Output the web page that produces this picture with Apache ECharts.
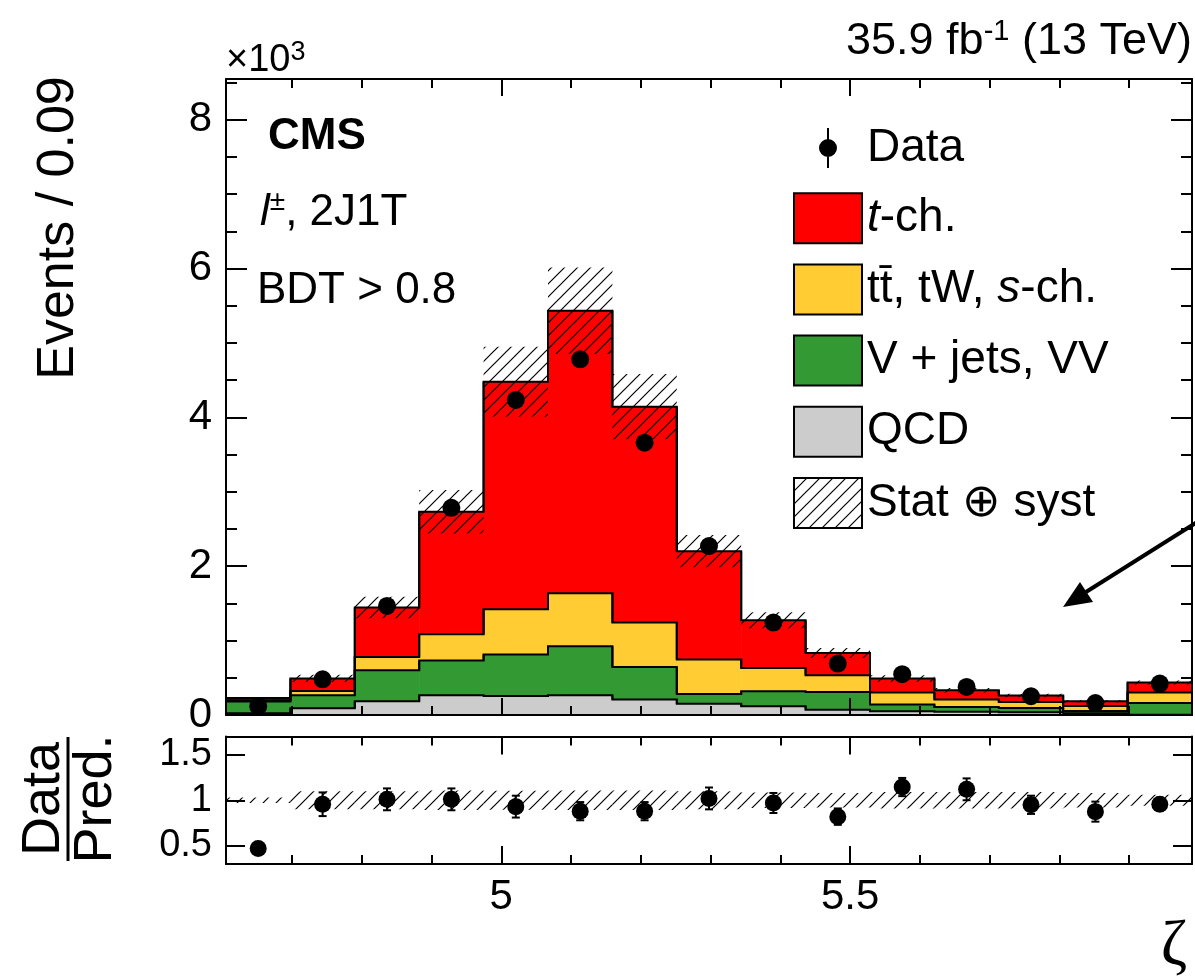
<!DOCTYPE html>
<html>
<head>
<meta charset="utf-8">
<script src="https://cdn.jsdelivr.net/npm/echarts@6/dist/echarts.min.js"></script>
<style>
html,body{margin:0;padding:0;background:#fff;}
#chart{width:1195px;height:978px;}
</style>
</head>
<body>
<div id="chart"></div>
<script>
// ---------------- data ----------------
const binEdges = [4.6055, 4.6978, 4.7901, 4.8824, 4.9747, 5.0670, 5.1593, 5.2516, 5.3439, 5.4362, 5.5285, 5.6208, 5.7131, 5.8054, 5.8977, 5.9900];
const qcd    = [25, 90, 186, 265, 256, 265, 207, 150, 117, 72, 50, 43, 36, 23, 5];
const vjets  = [155, 175, 414, 467, 557, 659, 439, 132, 202, 237, 90, 65, 58, 31, 156];
const ttbar  = [18, 56, 180, 354, 609, 713, 597, 463, 313, 225, 161, 99, 81, 67, 140];
const tch    = [31, 171, 665, 1645, 3058, 3795, 2901, 1457, 642, 300, 189, 125, 86, 63, 135];
const dataObs = [117, 480, 1466, 2785, 4234, 4781, 3660, 2270, 1243, 691, 548, 377, 252, 161, 422];
const uncRel  = [0.03, 0.10, 0.10, 0.107, 0.105, 0.107, 0.106, 0.098, 0.085, 0.08, 0.09, 0.09, 0.09, 0.08, 0.06];
const ratioVals = [0.47, 0.956, 1.01, 1.01, 0.93, 0.88, 0.88, 1.02, 0.97, 0.82, 1.145, 1.12, 0.95, 0.875, 0.956];
const ratioErr  = [0.04, 0.13, 0.12, 0.12, 0.12, 0.10, 0.10, 0.12, 0.11, 0.09, 0.10, 0.12, 0.10, 0.11, 0.07];
const xMajorTicks = [5, 5.5];
const xMinorTicks = [4.7, 4.8, 4.9, 5.1, 5.2, 5.3, 5.4, 5.6, 5.7, 5.8, 5.9];
const yMainMajor = [0, 2000, 4000, 6000, 8000];
const yMainMinor = [500, 1000, 1500, 2500, 3000, 3500, 4500, 5000, 5500, 6500, 7000, 7500, 8500];
const yRatioTicks = [0.5, 1, 1.5];
const X_MIN = 4.6055, X_MAX = 5.99;
const Y_MAX = 8548, R_MIN = 0.3, R_MAX = 1.7;

const FONT = "'Liberation Sans', Arial, Helvetica, sans-serif";

// ---------------- helpers ----------------
function makeHatch() {
  const s = 13;
  const c = document.createElement('canvas');
  c.width = s; c.height = s;
  const g = c.getContext('2d');
  g.strokeStyle = '#000'; g.lineWidth = 1.2;
  g.beginPath();
  g.moveTo(0, s); g.lineTo(s, 0);
  g.moveTo(-s / 2, s / 2); g.lineTo(s / 2, -s / 2);
  g.moveTo(s / 2, s * 1.5); g.lineTo(s * 1.5, s / 2);
  g.stroke();
  return c;
}
const hatch = { image: makeHatch(), repeat: 'repeat' };

const procs = [
  { name: 'QCD', vals: qcd, color: '#cccccc' },
  { name: 'V + jets, VV', vals: vjets, color: '#339933' },
  { name: 'tt\u0304, tW, s-ch.', vals: ttbar, color: '#ffcc33' },
  { name: 't-ch.', vals: tch, color: '#ff0000' }
];

const nBins = binEdges.length - 1;
const centers = [];
for (let i = 0; i < nBins; i++) centers.push((binEdges[i] + binEdges[i + 1]) / 2);

const series = [];
let cum = new Array(nBins).fill(0);
procs.forEach((p, k) => {
  const base = cum.slice();
  const top = base.map((b, i) => b + p.vals[i]);
  const fillData = [], lineData = [];
  for (let i = 0; i < nBins; i++) {
    fillData.push([binEdges[i], binEdges[i + 1], base[i], top[i]]);
    lineData.push([binEdges[i], binEdges[i + 1], top[i], i > 0 ? top[i - 1] : 0, i < nBins - 1 ? top[i + 1] : 0]);
  }
  series.push({
    type: 'custom', name: p.name, xAxisIndex: 0, yAxisIndex: 0, z: 2,
    itemStyle: { color: p.color, borderColor: '#000', borderWidth: 2 },
    encode: { x: [0, 1], y: [2, 3] },
    data: fillData,
    renderItem: (params, api) => {
      const a = api.coord([api.value(0), api.value(3)]);
      const b = api.coord([api.value(1), api.value(2)]);
      return { type: 'rect', shape: { x: a[0], y: a[1], width: b[0] - a[0] + 0.6, height: b[1] - a[1] },
               style: { fill: p.color } };
    }
  });
  series.push({
    type: 'custom', name: p.name + '_outline', xAxisIndex: 0, yAxisIndex: 0, z: 3,
    encode: { x: [0, 1], y: [2] },
    data: lineData,
    renderItem: (params, api) => {
      const lo = api.value(0), hi = api.value(1), t = api.value(2), pv = api.value(3), nx = api.value(4);
      const p1 = api.coord([lo, pv]), p2 = api.coord([lo, t]), p3 = api.coord([hi, t]), p4 = api.coord([hi, nx]);
      return { type: 'polyline', shape: { points: [p1, p2, p3, p4] },
               style: { stroke: '#000', lineWidth: 2, fill: null } };
    }
  });
  cum = top;
});
const total = cum;

// uncertainty band main
const bandData = [];
for (let i = 0; i < nBins; i++) bandData.push([binEdges[i], binEdges[i + 1], total[i] * (1 - uncRel[i]), total[i] * (1 + uncRel[i])]);
series.push({
  type: 'custom', name: 'Stat \u2295 syst', xAxisIndex: 0, yAxisIndex: 0, z: 4,
  itemStyle: { color: hatch, borderColor: '#000', borderWidth: 2 },
  encode: { x: [0, 1], y: [2, 3] },
  data: bandData,
  renderItem: (params, api) => {
    const a = api.coord([api.value(0), api.value(3)]);
    const b = api.coord([api.value(1), api.value(2)]);
    return { type: 'rect', shape: { x: a[0], y: a[1], width: b[0] - a[0], height: b[1] - a[1] },
             style: { fill: hatch } };
  }
});

// data points main
series.push({
  type: 'scatter', name: 'Data', xAxisIndex: 0, yAxisIndex: 0, z: 6,
  symbol: 'circle', symbolSize: 18, itemStyle: { color: '#000', opacity: 1 },
  data: centers.map((c, i) => [c, dataObs[i]])
});

// ratio band
const rBandData = [];
for (let i = 0; i < nBins; i++) rBandData.push([binEdges[i], binEdges[i + 1], 1 - uncRel[i], 1 + uncRel[i]]);
series.push({
  type: 'custom', name: 'ratioBand', xAxisIndex: 4, yAxisIndex: 4, z: 4,
  encode: { x: [0, 1], y: [2, 3] },
  data: rBandData,
  renderItem: (params, api) => {
    const a = api.coord([api.value(0), api.value(3)]);
    const b = api.coord([api.value(1), api.value(2)]);
    return { type: 'rect', shape: { x: a[0], y: a[1], width: b[0] - a[0], height: b[1] - a[1] },
             style: { fill: hatch } };
  }
});
// ratio error bars
series.push({
  type: 'custom', name: 'ratioErr', xAxisIndex: 4, yAxisIndex: 4, z: 5,
  encode: { x: 0, y: 1 },
  data: centers.map((c, i) => [c, ratioVals[i], ratioErr[i]]),
  renderItem: (params, api) => {
    const x = api.value(0), r = api.value(1), e = api.value(2);
    const t = api.coord([x, r + e]), b = api.coord([x, r - e]);
    const st = { stroke: '#000', lineWidth: 2 };
    return { type: 'group', children: [
      { type: 'line', shape: { x1: t[0], y1: t[1], x2: b[0], y2: b[1] }, style: st },
      { type: 'line', shape: { x1: t[0] - 4, y1: t[1], x2: t[0] + 4, y2: t[1] }, style: st },
      { type: 'line', shape: { x1: b[0] - 4, y1: b[1], x2: b[0] + 4, y2: b[1] }, style: st }
    ] };
  }
});
series.push({
  type: 'scatter', name: 'ratio', xAxisIndex: 4, yAxisIndex: 4, z: 6,
  symbol: 'circle', symbolSize: 17, itemStyle: { color: '#000', opacity: 1 },
  data: centers.map((c, i) => [c, ratioVals[i]])
});

// ---------------- axes ----------------
const lineSt = { color: '#000', width: 2 };
function xAx(grid, pos, ticks, len, showLine, labels) {
  return {
    type: 'value', gridIndex: grid, position: pos, min: X_MIN, max: X_MAX, z: 10,
    axisLine: { show: showLine, onZero: false, lineStyle: lineSt },
    axisTick: { show: true, inside: true, length: len, customValues: ticks, lineStyle: lineSt },
    axisLabel: labels ? { show: true, customValues: labels, fontSize: 42, color: '#000', fontFamily: FONT, margin: 12 } : { show: false },
    splitLine: { show: false }
  };
}
function yAx(grid, pos, min, max, ticks, len, showLine, labels, fmt, fs) {
  return {
    type: 'value', gridIndex: grid, position: pos, min: min, max: max, z: 10,
    axisLine: { show: showLine, onZero: false, lineStyle: lineSt },
    axisTick: { show: true, inside: true, length: len, customValues: ticks, lineStyle: lineSt },
    axisLabel: labels ? { show: true, customValues: labels, fontSize: fs, color: '#000', fontFamily: FONT, margin: 14, formatter: fmt } : { show: false },
    splitLine: { show: false }
  };
}

const xAxes = [
  xAx(0, 'bottom', xMajorTicks, 17, true, null),
  xAx(0, 'bottom', xMinorTicks, 9, false, null),
  xAx(0, 'top', xMajorTicks, 17, true, null),
  xAx(0, 'top', xMinorTicks, 9, false, null),
  xAx(1, 'bottom', xMajorTicks, 18, true, xMajorTicks),
  xAx(1, 'bottom', xMinorTicks, 9, false, null),
  xAx(1, 'top', xMajorTicks, 18, true, null),
  xAx(1, 'top', xMinorTicks, 9, false, null)
];
const yAxes = [
  yAx(0, 'left', 0, Y_MAX, yMainMajor, 21, true, yMainMajor, v => String(v / 1000), 42),
  yAx(0, 'left', 0, Y_MAX, yMainMinor, 11, false, null),
  yAx(0, 'right', 0, Y_MAX, yMainMajor, 21, true, null),
  yAx(0, 'right', 0, Y_MAX, yMainMinor, 11, false, null),
  yAx(1, 'left', R_MIN, R_MAX, yRatioTicks, 19, true, yRatioTicks, v => String(v), 38),
  yAx(1, 'right', R_MIN, R_MAX, yRatioTicks, 19, true, null)
];

// legend icon for data: marker with vertical line, in a 68x50 box
const dataIcon = 'path://M0,0L0.01,0L0.01,0.01Z M68,50L67.99,50L67.99,49.99Z M33,5L35,5L35,45L33,45Z M34,16A9,9,0,1,1,33.99,16Z';

const legendNames = {
  't-ch.': '{it|t}-ch.',
  'tt\u0304, tW, s-ch.': 'tt\u0304, tW, {it|s}-ch.'
};

const option = {
  animation: false,
  backgroundColor: '#fff',
  grid: [
    { left: 226, top: 79, width: 966, height: 636 },
    { left: 226, top: 736.5, width: 966, height: 127.5 }
  ],
  xAxis: xAxes,
  yAxis: yAxes,
  legend: {
    orient: 'vertical', left: 788, top: 118,
    itemWidth: 68, itemHeight: 50, itemGap: 19.2,
    icon: 'rect',
    selectedMode: false,
    data: [
      { name: 'Data', icon: dataIcon, itemStyle: { color: '#000', borderWidth: 0 } },
      { name: 't-ch.' },
      { name: 'tt\u0304, tW, s-ch.' },
      { name: 'V + jets, VV' },
      { name: 'QCD' },
      { name: 'Stat \u2295 syst' }
    ],
    formatter: n => legendNames[n] || n,
    textStyle: {
      fontSize: 46, fontFamily: FONT, color: '#000', lineHeight: 50,
      rich: { it: { fontSize: 46, fontFamily: FONT, fontStyle: 'italic', color: '#000', lineHeight: 50 } }
    }
  },
  graphic: [
    { type: 'text', x: 1192, y: 42, style: {
        text: '35.9 fb{sup|-1} (13 TeV)', align: 'right', verticalAlign: 'middle',
        fontSize: 45, fontFamily: FONT, fill: '#000', lineHeight: 50,
        rich: { sup: { fontSize: 29, fontFamily: FONT, lineHeight: 29, verticalAlign: 'top', fill: '#000' } } } },
    { type: 'text', x: 226, y: 61, style: {
        text: '\u00d710{sup|3}', align: 'left', verticalAlign: 'middle',
        fontSize: 38, fontFamily: FONT, fill: '#000', lineHeight: 44,
        rich: { sup: { fontSize: 27, fontFamily: FONT, lineHeight: 27, verticalAlign: 'top', fill: '#000' } } } },
    { type: 'text', x: 268, y: 137, style: { text: 'CMS', align: 'left', verticalAlign: 'middle',
        fontSize: 44, fontWeight: 'bold', fontFamily: FONT, fill: '#000' } },
    { type: 'text', x: 260, y: 213, style: {
        text: '{it|l}{sup|\u00b1}, 2J1T', align: 'left', verticalAlign: 'middle',
        fontSize: 44, fontFamily: FONT, fill: '#000', lineHeight: 50,
        rich: { it: { fontStyle: 'italic', fontSize: 44, fontFamily: FONT, lineHeight: 50, fill: '#000' },
                sup: { fontSize: 28, fontFamily: FONT, lineHeight: 28, verticalAlign: 'top', fill: '#000' } } } },
    { type: 'text', x: 257, y: 291, style: { text: 'BDT > 0.8', align: 'left', verticalAlign: 'middle',
        fontSize: 44, fontFamily: FONT, fill: '#000' } },
    { type: 'text', x: 59, y: 228, rotation: Math.PI / 2, style: { text: 'Events / 0.09', align: 'center', verticalAlign: 'middle',
        fontSize: 52, fontFamily: FONT, fill: '#000' } },
    { type: 'group', x: 68, y: 799, rotation: Math.PI / 2, children: [
        { type: 'line', shape: { x1: -62, y1: 0, x2: 62, y2: 0 }, style: { stroke: '#000', lineWidth: 3 } },
        { type: 'text', x: 0, y: 3, style: { text: 'Data', align: 'center', verticalAlign: 'bottom', fontSize: 54, fontFamily: FONT, fill: '#000' } },
        { type: 'text', x: 0, y: 1, style: { text: 'Pred.', align: 'center', verticalAlign: 'top', fontSize: 54, fontFamily: FONT, fill: '#000' } }
      ] },
    { type: 'text', x: 1174, y: 947, style: { text: '\u03b6', align: 'center', verticalAlign: 'middle',
        fontSize: 64, fontFamily: "'Liberation Serif', 'DejaVu Serif', serif", fill: '#000' } },
    { type: 'line', shape: { x1: 1197, y1: 522, x2: 1086, y2: 592 }, style: { stroke: '#000', lineWidth: 4 } },
    { type: 'polygon', shape: { points: [[1063, 607], [1093, 602], [1080, 582]] }, style: { fill: '#000' } }
  ],
  series: series
};

const chart = echarts.init(document.getElementById('chart'), null, { renderer: 'canvas' });
chart.setOption(option);
</script>
</body>
</html>
